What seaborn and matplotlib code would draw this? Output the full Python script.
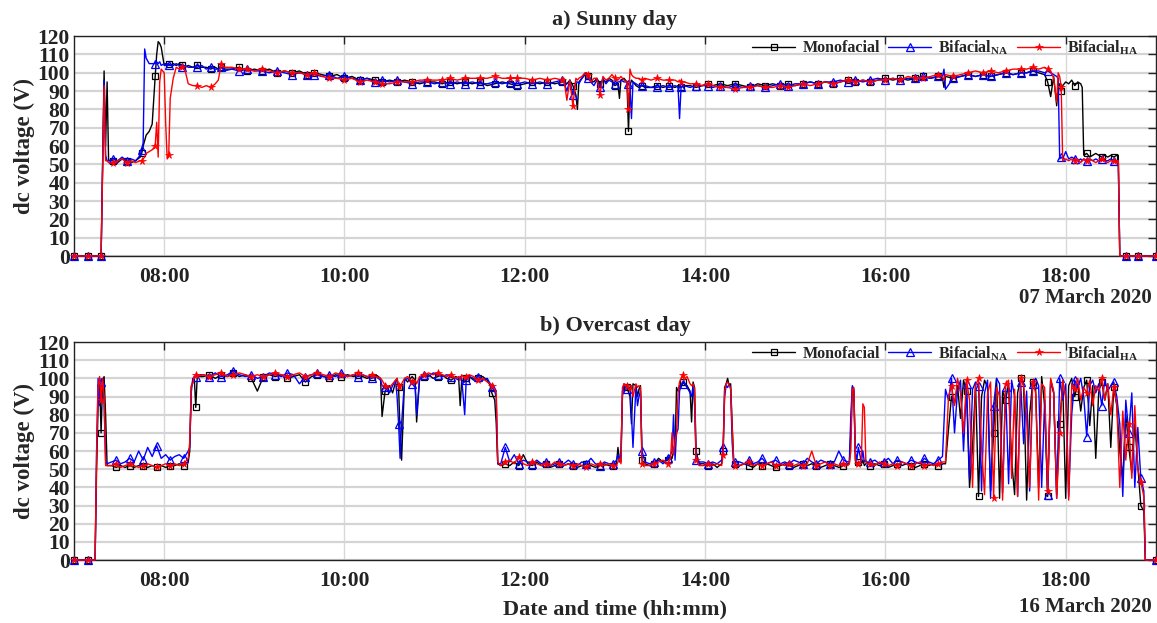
"""
plot.py
dc voltage of monofacial / bifacial modules on a sunny and an overcast day.
"""
import matplotlib
matplotlib.use("Agg")
import matplotlib.pyplot as plt
import matplotlib.dates as mdates
import numpy as np
import pandas as pd
import seaborn as sns

# -----------------------------------------------------------------
# Data (minutes after 07:00, voltages in V)
# -----------------------------------------------------------------
# a) Sunny day, 07 March 2020
sunny_minutes = [
    0, 9, 18, 20, 21, 22, 23, 26, 29, 32, 35, 38, 41, 44, 45, 46, 47, 48, 50, 52,
    54, 55, 56, 57, 58, 60, 61, 62, 63, 64, 66, 68, 70, 72, 74, 76, 79, 82, 85, 88,
    91, 94, 96, 98, 100,
    105, 110, 115, 120, 125, 130, 135, 140, 145, 150, 155, 160, 165, 170, 175, 180,
    185, 190, 195, 200, 205, 210, 215, 220, 225, 230, 235, 240, 245, 250, 255, 260,
    265, 270, 275, 280, 285, 290, 295, 300, 305, 310, 315, 320, 325,
    326, 328, 330, 332, 334, 335, 336, 338, 340, 341, 342, 344, 346, 348, 350, 352,
    354, 356, 358, 360, 362, 363, 364, 366, 368, 369, 370, 371, 372, 374, 376, 378,
    380, 384, 388, 392, 396, 400, 402, 403, 404, 406, 410, 414, 418, 422,
    425, 430, 435, 440, 445, 450, 455, 460, 465, 470, 475, 480, 485, 490, 495, 500,
    505, 510, 515, 520, 525, 530, 535, 540, 545, 550, 555, 560, 565, 570, 575, 578,
    579, 580, 585, 590, 595, 600, 605, 610, 615, 620, 625, 630,
    634, 638, 642, 646, 648, 650, 652, 654, 655, 656, 657, 658, 660, 662, 664, 666,
    668, 670, 671, 672, 674, 676, 678, 680, 682, 684, 686, 688, 690, 692, 694, 695,
    696, 700, 708, 717, 720,
]
sunny_mono = [
    0, 0, 0, 101, 60, 95, 52, 52, 51, 53, 52, 51, 52, 54, 56, 60, 63, 66, 68, 72,
    98, 110, 117, 116, 114, 104, 105, 104, 105, 104, 105, 104, 105, 104, 103, 104, 103, 104, 103, 103,
    102, 103, 102, 103, 102,
    102, 103, 101, 102, 101, 102, 100, 101, 100, 101, 99, 100, 99, 98, 99, 97,
    98, 96, 97, 96, 95, 96, 95, 96, 95, 94, 95, 95, 94, 95, 94, 95,
    94, 95, 93, 94, 95, 94, 93, 94, 95, 94, 95, 94, 95,
    95, 94, 96, 93, 88, 80, 95, 97, 99, 100, 98, 96, 95, 97, 94, 96,
    95, 97, 96, 93, 94, 86, 96, 97, 95, 68, 93, 96, 95, 93, 92, 93,
    92, 92, 93, 92, 93, 92, 93, 93, 92, 93, 93, 92, 93, 94,
    93, 94, 93, 94, 93, 92, 94, 93, 94, 93, 94, 93, 94, 95, 94, 95,
    94, 95, 96, 95, 96, 95, 96, 97, 96, 97, 96, 97, 98, 97, 98, 97,
    92, 98, 97, 98, 99, 98, 99, 98, 99, 100, 99, 100,
    100, 101, 100, 99, 95, 87, 98, 82, 92, 94, 90, 93, 95, 94, 96, 93,
    95, 94, 92, 55, 56, 54, 55, 56, 55, 54, 55, 54, 55, 54, 55, 55,
    0, 0, 0, 0, 0,
]
sunny_bif_na = [
    0, 0, 0, 96, 55, 52, 52, 53, 52, 54, 52, 53, 52, 55, 58, 62, 113, 108, 105, 105,
    105, 106, 105, 106, 104, 105, 104, 105, 104, 104, 104, 105, 104, 103, 104, 103, 103, 103, 104, 102,
    103, 102, 102, 103, 101,
    102, 101, 102, 101, 101, 100, 101, 100, 99, 100, 99, 99, 98, 99, 97, 98,
    97, 96, 97, 95, 96, 95, 96, 95, 94, 95, 95, 94, 95, 94, 95, 94,
    95, 94, 94, 95, 94, 95, 94, 95, 94, 95, 94, 95, 96,
    95, 90, 96, 88, 95, 95, 94, 97, 99, 99, 97, 95, 93, 96, 92, 97,
    94, 96, 95, 94, 95, 95, 96, 95, 95, 94, 92, 75, 95, 94, 93, 93,
    93, 92, 92, 93, 92, 93, 92, 75, 92, 93, 92, 93, 93, 93,
    92, 93, 92, 93, 92, 93, 93, 92, 93, 94, 93, 94, 94, 95, 94, 95,
    95, 96, 95, 96, 95, 96, 97, 96, 97, 96, 97, 97, 98, 97, 98, 98,
    102, 91, 97, 98, 99, 98, 99, 98, 99, 100, 99, 100,
    100, 101, 101, 100, 101, 100, 99, 98, 97, 53, 54, 53, 57, 53, 54, 53,
    52, 53, 52, 53, 52, 53, 52, 53, 52, 53, 52, 52, 53, 52, 52, 52,
    0, 0, 0, 0, 0,
]
sunny_bif_ha = [
    0, 0, 0, 93, 52, 52, 51, 51, 52, 53, 51, 52, 51, 52, 52, 53, 54, 56, 57, 58,
    60, 73, 54, 95, 102, 100, 72, 53, 55, 86, 97, 103, 102, 103, 101, 94, 93, 93, 92, 93,
    92, 94, 96, 105, 103,
    103, 102, 102, 101, 102, 101, 100, 101, 100, 100, 99, 100, 98, 97, 97, 96,
    97, 95, 96, 95, 94, 94, 95, 95, 95, 96, 96, 96, 96, 97, 96, 97,
    97, 97, 97, 98, 97, 97, 97, 97, 96, 97, 96, 97, 96,
    97, 85, 96, 82, 97, 96, 97, 98, 100, 100, 99, 95, 97, 97, 88, 98,
    96, 97, 99, 97, 96, 97, 98, 96, 95, 80, 102, 99, 98, 97, 97, 96,
    97, 96, 97, 96, 96, 96, 95, 96, 95, 95, 94, 94, 93, 94,
    93, 92, 92, 91, 92, 92, 93, 92, 92, 93, 92, 93, 94, 93, 94, 95,
    94, 95, 96, 95, 96, 95, 96, 96, 97, 96, 98, 97, 97, 98, 99, 98,
    96, 99, 98, 99, 100, 101, 100, 101, 100, 101, 102, 102,
    102, 103, 102, 103, 102, 101, 97, 84, 100, 98, 92, 52, 53, 52, 53, 52,
    53, 51, 52, 53, 52, 53, 52, 51, 52, 53, 52, 51, 52, 52, 51, 52,
    0, 0, 0, 0, 0,
]

# b) Overcast day, 16 March 2020
overcast_minutes = [
    0, 9, 14, 15, 16, 17, 18, 19, 20, 21, 22,
    25, 28, 31, 34, 37, 40, 43, 46, 49, 52, 55, 58, 61, 64, 67, 70, 73, 76,
    77, 78, 79, 80, 81, 82,
    86, 90, 94, 98, 102, 106, 110, 114, 118, 122, 126, 130, 134, 138, 142, 146,
    150, 154, 158, 162, 166, 170, 174, 178, 182,
    186, 189, 192, 195, 198, 201, 204, 205, 207, 210, 212, 214, 215, 216, 217, 218,
    220, 222, 225, 227, 228, 230, 233, 236, 239, 242, 245, 248, 251, 254, 256, 257,
    258, 260, 261, 263, 266, 269, 272, 275, 277, 278, 280, 281, 282,
    284, 287, 290, 293, 296, 299, 302, 305, 308, 311, 314, 317, 320, 323, 326, 329,
    332, 335, 338, 341, 344, 347, 350, 353, 356, 359,
    361, 362, 363, 364, 365, 366, 368, 370, 371, 372, 374, 375, 376, 377, 378, 380,
    383, 386, 389, 392, 395, 397, 398, 399, 400, 401, 402, 403, 404, 405, 406, 408,
    410, 411, 412, 413, 414, 416,
    419, 422, 425, 428, 431,
    432, 433, 434, 435, 436, 437, 438, 439, 440,
    443, 446, 449, 452, 455, 458, 461, 464, 467, 470, 473, 476, 479, 482, 485, 488,
    491, 494, 497, 500, 503, 506, 509, 512, 515,
    516, 517, 518, 519, 520, 521, 522, 524, 525, 526, 527, 528,
    530, 533, 536, 539, 542, 545, 548, 551, 554, 557, 560, 563, 566, 569, 572, 575,
    578,
    580, 582, 584, 586, 588, 590, 592, 594, 596, 598, 600, 602, 604, 606, 608, 610,
    612, 614, 616, 618, 620, 622, 624, 626, 628, 630, 632, 634, 636, 638, 640, 642,
    644, 646, 648, 650, 652, 654, 656, 658, 660, 662, 664, 666, 668, 670, 672, 674,
    676, 678, 680, 682, 684, 686, 688, 690, 692, 694, 696, 698, 700, 702, 704, 706,
    708, 710, 712,
    713, 718, 720,
]
overcast_mono = [
    0, 0, 0, 50, 85, 100, 70, 98, 101, 80, 52,
    52, 51, 52, 51, 52, 51, 52, 52, 51, 52, 51, 52, 51, 52, 52, 53, 52, 54,
    60, 95, 98, 101, 84, 101,
    101, 102, 100, 102, 101, 103, 101, 102, 100, 93, 101, 102, 101, 102, 100, 101,
    102, 98, 101, 102, 101, 100, 102, 101, 102,
    101, 102, 101, 100, 101, 102, 100, 79, 93, 96, 92, 98, 100, 95, 70, 55,
    100, 98, 101, 99, 76, 100, 101, 102, 100, 101, 102, 100, 99, 101, 100, 85,
    99, 98, 100, 101, 99, 100, 101, 99, 96, 92, 88, 75, 53,
    52, 53, 52, 54, 52, 58, 53, 52, 54, 52, 53, 51, 52, 53, 52, 53,
    52, 51, 52, 53, 52, 51, 52, 53, 52, 52,
    53, 62, 55, 54, 93, 96, 95, 90, 75, 97, 96, 90, 94, 96, 55, 53,
    52, 53, 56, 54, 55, 57, 56, 60, 62, 95, 93, 96, 95, 98, 97, 96,
    93, 76, 98, 95, 60, 53,
    53, 52, 53, 51, 53,
    60, 95, 97, 100, 96, 97, 75, 55, 53,
    52, 53, 52, 51, 53, 52, 53, 52, 51, 52, 53, 52, 51, 52, 53, 52,
    53, 52, 51, 52, 53, 52, 51, 52, 53,
    53, 70, 95, 93, 55, 53, 54, 53, 55, 52, 53, 54,
    52, 53, 52, 53, 51, 52, 53, 52, 53, 52, 51, 52, 53, 52, 53, 52,
    53,
    53, 72, 90, 86, 96, 78, 99, 93, 40, 62, 97, 35, 90, 99, 95, 38,
    70, 100, 34, 93, 88, 97, 55, 36, 92, 100, 96, 33, 80, 98, 94, 40,
    101, 85, 35, 99, 92, 36, 75, 98, 34, 96, 100, 90, 97, 82, 95, 99,
    74, 96, 56, 93, 98, 88, 97, 62, 95, 85, 60, 45, 80, 62, 48, 75,
    52, 30, 27,
    0, 0, 0,
]
overcast_bif_na = [
    0, 0, 0, 60, 100, 85, 98, 100, 86, 55, 53,
    54, 55, 53, 54, 56, 54, 60, 55, 62, 57, 63, 56, 58, 55, 57, 58, 56, 60,
    62, 92, 100, 100, 101, 102,
    102, 101, 103, 101, 102, 104, 102, 101, 102, 100, 101, 103, 102, 101, 103, 102,
    97, 101, 102, 103, 101, 102, 101, 103, 101,
    102, 101, 102, 101, 100, 101, 99, 96, 95, 92, 96, 99, 90, 75, 56, 75,
    99, 100, 97, 95, 80, 100, 102, 101, 103, 102, 101, 102, 101, 100, 99, 101,
    100, 80, 99, 101, 100, 101, 99, 100, 97, 95, 93, 90, 53,
    53, 62, 54, 58, 53, 55, 54, 53, 55, 53, 54, 52, 53, 54, 53, 55,
    53, 52, 54, 53, 56, 53, 52, 54, 53, 53,
    55, 58, 54, 60, 90, 97, 94, 95, 80, 62, 96, 85, 90, 93, 60, 54,
    53, 54, 55, 53, 56, 58, 60, 80, 55, 70, 72, 93, 96, 97, 98, 95,
    92, 90, 96, 85, 55, 54,
    54, 53, 54, 53, 55,
    62, 90, 96, 95, 97, 94, 65, 53, 54,
    54, 53, 55, 53, 54, 56, 53, 54, 55, 53, 54, 53, 55, 54, 53, 56,
    54, 53, 55, 54, 53, 54, 60, 55, 54,
    54, 80, 96, 94, 60, 55, 62, 54, 60, 54, 55, 53,
    54, 55, 53, 54, 56, 53, 55, 54, 53, 55, 54, 53, 56, 54, 53, 55,
    57,
    94, 88, 100, 70, 93, 99, 60, 97, 45, 94, 98, 96, 38, 92, 99, 34,
    85, 100, 97, 37, 95, 42, 99, 90, 35, 98, 64, 93, 38, 97, 100, 96,
    40, 88, 36, 99, 92, 34, 100, 88, 97, 35, 80, 99, 95, 100, 90, 68,
    96, 99, 92, 97, 85, 99, 93, 96, 98, 90, 75, 35, 88, 70, 92, 40,
    73, 45, 38,
    0, 0, 0,
]
overcast_bif_ha = [
    0, 0, 0, 58, 95, 101, 88, 100, 90, 52, 52,
    52, 53, 51, 52, 53, 52, 51, 52, 53, 52, 51, 52, 53, 52, 53, 52, 53, 56,
    65, 96, 97, 101, 102, 101,
    102, 101, 102, 103, 101, 102, 103, 102, 101, 102, 101, 102, 103, 102, 101, 102,
    103, 101, 102, 103, 102, 101, 103, 102, 101,
    102, 103, 102, 101, 102, 101, 100, 99, 96, 95, 97, 99, 100, 96, 94, 97,
    100, 101, 98, 99, 97, 101, 102, 103, 102, 103, 102, 101, 102, 100, 101, 99,
    102, 100, 101, 102, 101, 99, 100, 98, 97, 96, 94, 92, 54,
    52, 54, 55, 53, 57, 53, 52, 54, 53, 52, 53, 52, 54, 53, 52, 53,
    52, 53, 52, 51, 53, 52, 53, 52, 53, 52,
    52, 54, 56, 53, 95, 97, 96, 93, 96, 90, 97, 95, 96, 95, 53, 52,
    52, 53, 54, 55, 53, 56, 70, 58, 65, 70, 92, 98, 100, 102, 99, 101,
    97, 96, 97, 94, 55, 52,
    52, 53, 52, 53, 52,
    58, 93, 97, 98, 96, 95, 73, 55, 52,
    52, 53, 54, 52, 53, 52, 53, 54, 52, 53, 52, 53, 52, 53, 52, 53,
    60, 52, 53, 54, 52, 53, 52, 53, 52,
    53, 60, 94, 95, 56, 52, 53, 55, 86, 84, 54, 53,
    53, 52, 54, 53, 52, 53, 52, 54, 53, 52, 53, 54, 52, 53, 52, 53,
    54,
    54, 90, 96, 85, 100, 92, 70, 99, 88, 40, 96, 100, 62, 36, 92, 98,
    34, 95, 90, 33, 97, 99, 45, 94, 35, 100, 96, 78, 40, 98, 92, 33,
    97, 95, 38, 100, 93, 34, 70, 99, 90, 33, 97, 94, 100, 88, 95, 92,
    99, 85, 96, 93, 100, 88, 97, 80, 95, 86, 40, 82, 55, 75, 45, 85,
    50, 43, 35,
    0, 0, 0,
]

series_names = ["Monofacial", r"Bifacial$_{\mathbf{NA}}$", r"Bifacial$_{\mathbf{HA}}$"]
panel_titles = ["a) Sunny day", "b) Overcast day"]
panel_dates = ["07 March 2020", "16 March 2020"]
day_starts = ["2020-03-07 07:00", "2020-03-16 07:00"]

# -----------------------------------------------------------------
# Style
# -----------------------------------------------------------------
sns.set_theme(style="white")
plt.rcParams["font.family"] = ["Liberation Serif", "DejaVu Serif"]
plt.rcParams["font.weight"] = "bold"
plt.rcParams["mathtext.fontset"] = "custom"
plt.rcParams["mathtext.rm"] = "Liberation Serif:bold"
plt.rcParams["mathtext.bf"] = "Liberation Serif:bold"

line_styles = [
    dict(color="black", marker="s", markersize=4, markerfacecolor="none",
         markeredgecolor="black", markeredgewidth=0.9),
    dict(color="#0000ff", marker="^", markersize=5.5, markerfacecolor="none",
         markeredgecolor="#0000ff", markeredgewidth=0.9),
    dict(color="#ff0000", marker="*", markersize=5.5, markerfacecolor="#ff0000",
         markeredgecolor="#ff0000", markeredgewidth=0.5),
]

panels = [
    (sunny_minutes, [sunny_mono, sunny_bif_na, sunny_bif_ha]),
    (overcast_minutes, [overcast_mono, overcast_bif_na, overcast_bif_ha]),
]
date_offsets = [-0.19, -0.215]

fig = plt.figure(figsize=(11.57, 6.23), dpi=100)
axes = [
    fig.add_axes([0.064, 0.589, 0.935, 0.353]),
    fig.add_axes([0.064, 0.101, 0.935, 0.350]),
]

for k, (ax, (minutes, values)) in enumerate(zip(axes, panels)):
    start = pd.Timestamp(day_starts[k])
    times = start + pd.to_timedelta(minutes, unit="min")

    # markers roughly every 9 minutes, like the logger plot
    mins = np.array(minutes, dtype=float)
    mark_idx = sorted({int(np.argmin(np.abs(mins - m))) for m in range(0, 721, 9)})

    for name, vals, style in zip(series_names, values, line_styles):
        assert len(vals) == len(minutes), (k, name, len(vals), len(minutes))
        df = pd.DataFrame({"time": times, "voltage": vals})
        sns.lineplot(
            data=df, x="time", y="voltage", ax=ax, label=name,
            linewidth=1.0, estimator=None, markevery=mark_idx,
            clip_on=False, zorder=3, **style,
        )

    ax.set_xlim(start, start + pd.Timedelta(hours=12))
    ax.set_ylim(0, 120)
    ax.set_yticks(range(0, 121, 10))
    ax.xaxis.set_major_locator(mdates.HourLocator(byhour=range(8, 19, 2)))
    ax.xaxis.set_major_formatter(mdates.DateFormatter("%H:%M"))

    ax.grid(axis="y", color="#d4d4d4", linewidth=1.6)
    ax.grid(axis="x", color="#d8d8d8", linewidth=1.0)
    ax.set_axisbelow(True)
    for spine in ax.spines.values():
        spine.set_color("#222222")
        spine.set_linewidth(1.0)
    ax.tick_params(direction="in", length=6, width=1.0, top=True, right=True,
                   labelsize=15.5, colors="#222222")
    ax.tick_params(axis="x", pad=8)
    ax.tick_params(axis="y", pad=3)
    for lab in ax.get_xticklabels() + ax.get_yticklabels():
        lab.set_fontweight("bold")

    ax.set_ylabel("dc voltage (V)", fontsize=16.5, fontweight="bold", labelpad=2)
    ax.set_xlabel("")
    ax.set_title(panel_titles[k], fontsize=16, fontweight="bold", pad=8)
    ax.text(0.9965, date_offsets[k], panel_dates[k], transform=ax.transAxes,
            ha="right", va="center", fontsize=15, fontweight="bold")

    ax.legend(loc="upper right", bbox_to_anchor=(0.99, 1.02), ncol=3, frameon=False,
              handlelength=2.7, handletextpad=0.45, columnspacing=0.5,
              borderaxespad=0, numpoints=1, prop={"weight": "bold", "size": 11.5})

axes[1].set_xlabel("Date and time (hh:mm)", fontsize=16, fontweight="bold", labelpad=6)

fig.savefig("out.png", dpi=100)
